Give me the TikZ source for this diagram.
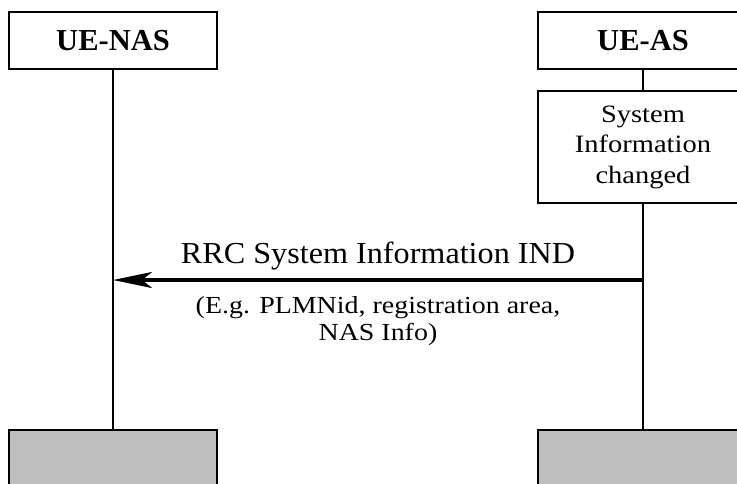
\documentclass[tikz,border=0pt]{standalone}
\usepackage{fontspec}
\setmainfont{Liberation Serif}
\newfontfamily\widefont[FakeStretch=1.14]{Liberation Serif}
\newfontfamily\msgfont[FakeStretch=1.055]{Liberation Serif}
\usetikzlibrary{arrows.meta}
\begin{document}
\begin{tikzpicture}[x=1pt,y=-1pt,
  entity/.style={draw, line width=1.4pt, minimum width=208pt, minimum height=57pt,
    inner sep=0pt, font=\fontsize{30.5}{36}\selectfont\bfseries},
  procbox/.style={draw, line width=1.4pt, minimum width=210pt, minimum height=112pt,
    inner sep=0pt, align=center, font=\widefont\fontsize{25}{30.5}\selectfont},
  endbox/.style={draw, line width=1.4pt, fill=black!25, minimum width=208pt,
    minimum height=60pt, inner sep=0pt},
  lifeline/.style={line width=1.4pt},
  msg/.style={line width=4pt, -{Stealth[length=39pt,width=16pt,inset=10pt]}},
  msglabel/.style={anchor=base, inner sep=0pt, font=\msgfont\fontsize{30.5}{36}\selectfont},
  msgnote/.style={anchor=north, inner sep=0pt, align=center,
    font=\widefont\fontsize{24.5}{27}\selectfont}
]
\useasboundingbox (0,0) rectangle (737,483);
\clip (0,0) rectangle (737,483);

% participants
\node[entity] (nas) at (113,40.5) {UE-NAS};
\node[entity, minimum width=210pt] (as) at (643,40.5) {UE-AS};

% local procedure on the AS side
\node[procbox] (sic) at (643,147) {System\\Information\\changed};

% end-of-lifeline boxes
\node[endbox] (nasend) at (113,460) {};
\node[endbox, minimum width=210pt] (asend) at (643,460) {};

% lifelines
\draw[lifeline] (nas.south) -- (nasend.north);
\draw[lifeline] (as.south) -- (sic.north);
\draw[lifeline] (sic.south) -- (asend.north);

% message
\coordinate (src) at (643,280);
\coordinate (dst) at (113,280);
\draw[msg] (src) -- (dst);
\node[msglabel] (lbl) at (378,263) {RRC System Information IND};
\node[msgnote] (note) at (378,296) {(E.g. PLMNid, registration area,\\NAS Info)};
\end{tikzpicture}
\end{document}
